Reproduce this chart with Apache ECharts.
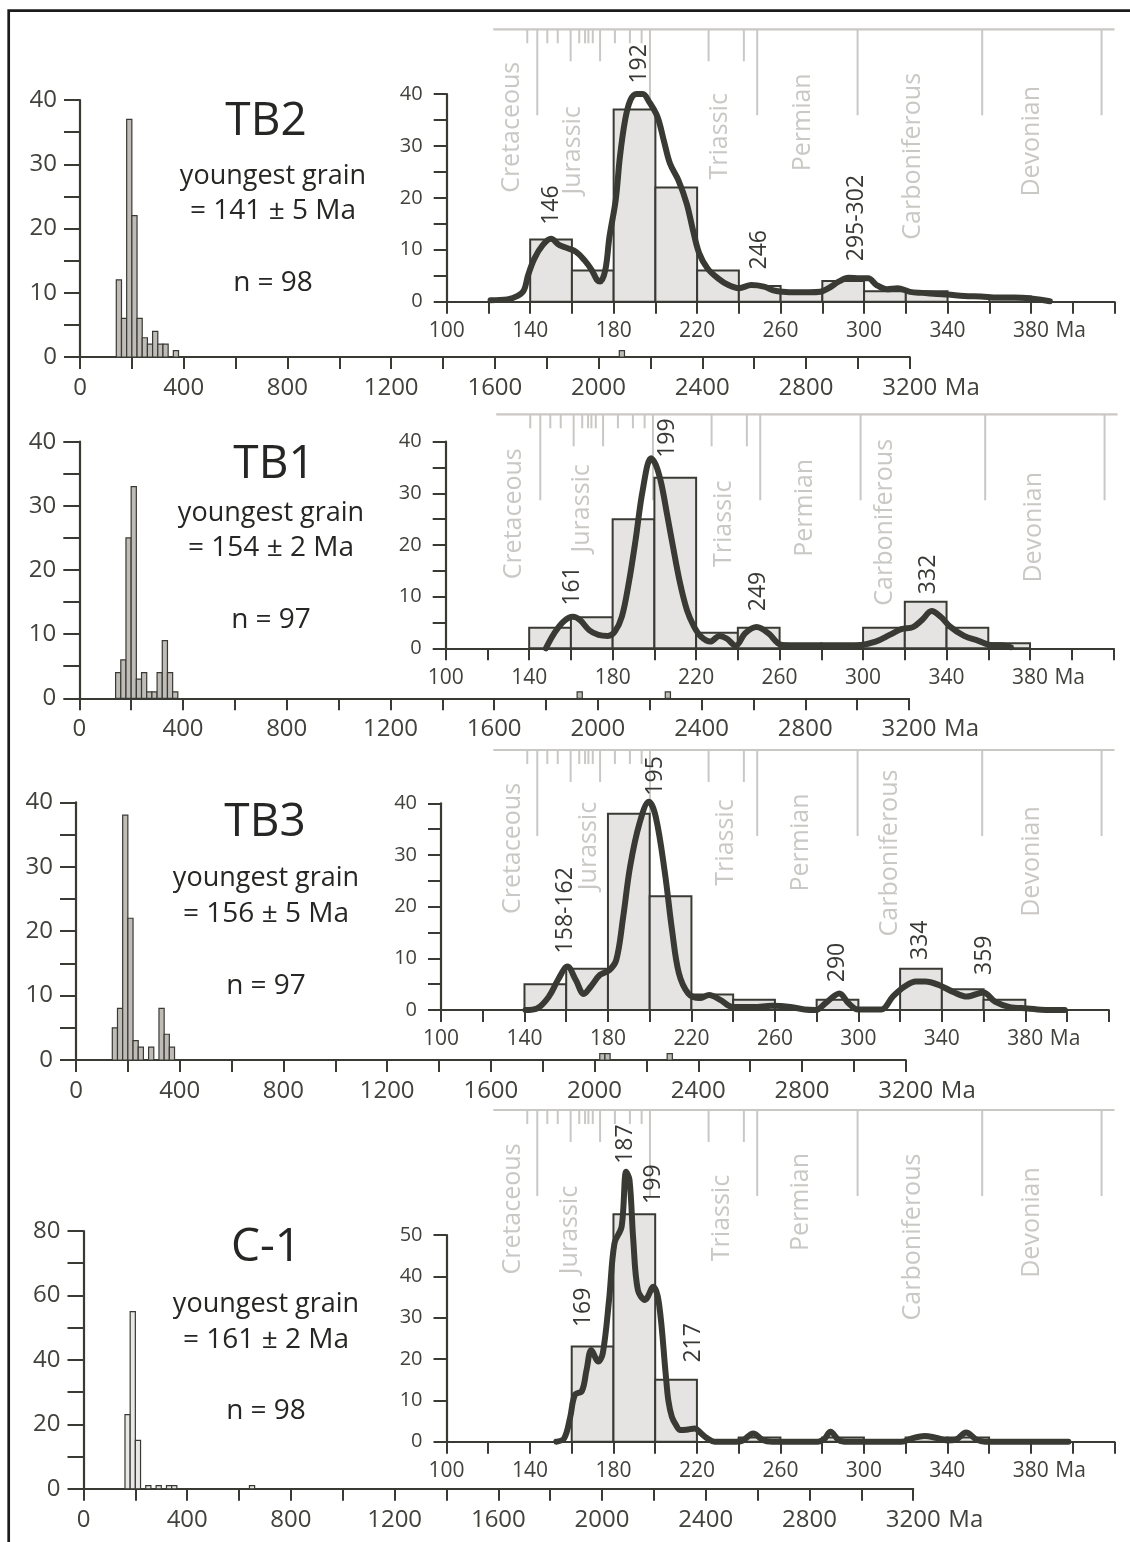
<!DOCTYPE html>
<html><head><meta charset="utf-8">
<script src="https://cdn.jsdelivr.net/npm/echarts@6/dist/echarts.min.js"></script>
<style>html,body{margin:0;padding:0;background:#fff}#c{width:1130px;height:1542px}</style>
</head><body><div id="c"></div>
<script>
// ---------------- DATA ----------------
const BIN = 20; // Ma, histogram bin width

// TB2
const tb2BinStart = [140,160,180,200,220,240,260,280,300,320,360,2080];
const tb2BinCount = [12,6,37,22,6,3,2,4,2,2,1,1];
const tb2KdeAge = [121,129,134,137,139,142,146,150,154,158,162,166,169.5,172,173.5,176,178,181,183,185.5,188,191,194,197,201,204,207,211,215,218,221,225,230,235,240,246,252,256.5,261,268,274,279,283,288,292.5,298,302,306,311,316,322,328,335,340,348,356,364,372,380,389];
const tb2KdeVal = [0.3,0.45,1.1,2.2,5.1,8.3,10.9,12.1,10.9,10.3,9.6,8,6.1,4.2,3.9,6.1,12.5,19.6,27.9,35,38.8,40,40,38.5,35.6,31.1,26.6,23.4,18.9,13.8,9.3,6.4,4.5,3.2,2.6,3.2,2.9,2.2,1.9,1.8,1.8,1.9,2.6,3.9,4.6,4.5,4.5,3.2,2.4,2.6,1.9,1.7,1.5,1.4,1.1,1,0.8,0.8,0.6,0.1];
const tb2PeakText = ['146','192','246','295-302'];

// TB1
const tb1BinStart = [140,160,180,200,220,240,260,280,300,320,340,360,1920,2260];
const tb1BinCount = [4,6,25,33,3,4,1,1,4,9,4,1,1,1];
const tb1KdeAge = [148,152,156.5,161,164.3,168.8,173.2,177.7,181,184.4,187.7,191,194.4,198.4,200.7,203.3,206,208.9,212.3,215.6,219,222.3,226.8,231.2,234.6,239,243.5,249,254.7,259.2,263.6,272.5,283.7,297,306,312.7,318.3,323.9,328.3,332.8,337.2,341.7,348.4,355,361.8,366.3,370.8];
const tb1KdeVal = [0,2.9,5.2,6.1,5.5,3.5,2.6,2.4,3.2,6.1,12.6,21,30.6,36.8,35.5,31.9,26.1,19.7,12.6,7.4,4.2,2.3,1.3,2.4,1.9,0.5,2.9,4.1,2.9,1,0.5,0.3,0.3,0.5,1.3,2.6,3.7,4.1,5.5,7.2,6.1,4.2,2.4,1.5,0.6,0.6,0.2];
const tb1PeakText = ['161','199','249','332'];

// TB3
const tb3BinStart = [140,160,180,200,220,240,280,320,340,360,2020,2040,2280];
const tb3BinCount = [5,8,38,22,3,2,2,8,4,2,1,1,1];
const tb3KdeAge = [140.5,146,151.7,156,160.6,164.6,168.4,171.7,176.2,180.6,184,187.3,190.6,195.1,199.6,202.9,207.3,210.7,214,218.5,224,228.5,234,239.6,249.7,258.6,267.5,274.2,279.7,284.2,290.9,295.3,299.8,310.9,316.5,322,327.6,332,338.8,345.4,352,359.9,365.5,372.2,381,390,398.9];
const tb3KdeVal = [0,0.3,2.6,5.8,8.4,5.8,3.1,4.5,6.8,7.7,9.7,18,27.7,36.1,40.3,37.4,26.5,15.5,7.1,3.2,2.3,2.9,1.9,0.6,0.6,0.8,0.6,0.1,0,1.3,3.2,1.3,0.1,0.1,2.6,4.5,5.5,5.5,4.8,3.5,2.6,3.4,1.6,0.6,0.3,0,0];
const tb3PeakText = ['158-162','195','290','334','359'];

// C-1
const c1BinStart = [160,180,200,240,280,320,340,640];
const c1BinCount = [23,55,15,1,1,1,1,1];
const c1KdeAge = [152.6,156.4,159.3,161.5,164.9,167.1,169.4,172.7,174.9,177.9,180.5,183.9,186.1,187.7,189.5,191.7,195.1,199.1,201.8,205.1,206.3,208,210,212,215,219,222,225,228.5,238.7,242,247,251.5,256,278,281,284,288,292,318,323,329,335,340,344,349,354,358,398];
const c1KdeVal = [0,0.8,6,11.3,12.3,17.3,22.2,19.4,21.4,34.3,48,52,65.3,63.3,48.8,36.7,34.3,37.5,33.5,16,10,6,4,2.8,2.9,3.2,2,0.8,0,0,0.3,2,0.4,0,0,0.6,2.4,0.4,0,0,0.8,1.4,0.9,0.3,0.5,2.2,0.5,0,0];
const c1PeakText = ['187','199','169','217'];

// Geologic time scale (Ma)
const periodNames = ['Cretaceous','Jurassic','Triassic','Permian','Carboniferous','Devonian'];
const boundaryAge  = [138.6,143.4,148.2,153.2,159.4,163.5,166.3,167.9,170,173.5,180.6,187.8,193.4,197.4,225.5,242.4,248.8,296.9,356.6,413.8];
const boundaryRank = ['s','l','s','s','m','s','s','s','s','m','s','s','s','l','m','m','l','l','l','l'];
const scaleSpan = [122.3, 420];

// ---------------- STYLE / LAYOUT ----------------
const FONT = '"Open Sans", "Noto Sans", sans-serif';
const DARK = '#3a3a35';
const LABEL = '#42423d';
const GEO = '#cac8c5';
const INSET_FILL = '#e5e4e2';
const MAIN_W = 829.7, INSET_W = 667.8, SCALE_H = 86;
const RANK_LEN = {s: 14, m: 32, l: 86};

const panels = [
  {title:'TB2', info:['youngest grain','= 141 ± 5 Ma','n = 98'], binStart:tb2BinStart, binCount:tb2BinCount, kdeAge:tb2KdeAge, kdeVal:tb2KdeVal, peakText:tb2PeakText, mainMax:40, mainTick:5, mainLab:10, insetMax:40, insetTick:5, mainFill:'#bfbcb7'},
  {title:'TB1', info:['youngest grain','= 154 ± 2 Ma','n = 97'], binStart:tb1BinStart, binCount:tb1BinCount, kdeAge:tb1KdeAge, kdeVal:tb1KdeVal, peakText:tb1PeakText, mainMax:40, mainTick:5, mainLab:10, insetMax:40, insetTick:5, mainFill:'#bfbcb7'},
  {title:'TB3', info:['youngest grain','= 156 ± 5 Ma','n = 97'], binStart:tb3BinStart, binCount:tb3BinCount, kdeAge:tb3KdeAge, kdeVal:tb3KdeVal, peakText:tb3PeakText, mainMax:40, mainTick:5, mainLab:10, insetMax:40, insetTick:5, mainFill:'#bfbcb7'},
  {title:'C-1', info:['youngest grain','= 161 ± 2 Ma','n = 98'], binStart:c1BinStart, binCount:c1BinCount, kdeAge:c1KdeAge, kdeVal:c1KdeVal, peakText:c1PeakText, mainMax:80, mainTick:10, mainLab:20, insetMax:50, insetTick:10, mainFill:'#e8e8e6'}
];

const layouts = [
  {main:{left:80, top:100, height:257}, inset:{left:446.7, top:94, height:207.7}, scale:{left:446.7, top:29.3},
   titleX:266, textX:273, ys:[122,176,211,283],
   peaks:[[150.3,18.6],[192.6,45.8],[250.1,10],[296.5,16.1]],
   periods:[[131.1,98],[160.7,121],[231,107],[270.6,93],[323.6,127],[380.3,112]]},
  {main:{left:79.3, top:441.7, height:256.6}, inset:{left:445.7, top:441.7, height:206.6}, scale:{left:449.7, top:414.3},
   titleX:274, textX:271, ys:[465,513,548,620],
   peaks:[[160.7,12.1],[206.4,40.7],[249.9,11],[331.3,14.3]],
   periods:[[130.9,99.5],[163.2,94],[231.3,109.5],[270.3,93.5],[308.6,108],[380,113]]},
  {main:{left:76, top:802.3, height:257.7}, inset:{left:441, top:803.3, height:206.7}, scale:{left:446.7, top:750},
   titleX:265, textX:266, ys:[823,878,914,986],
   peaks:[[159.6,19.3],[203,45.3],[290,9.2],[329.8,13.5],[360.3,10.6]],
   periods:[[131.6,98.5],[168,96],[233.8,92.5],[269.9,92.5],[312.3,103],[380.3,111.5]]},
  {main:{left:83.5, top:1231, height:257.8}, inset:{left:446.5, top:1235, height:206.7}, scale:{left:446.7, top:1110},
   titleX:266, textX:266, ys:[1248,1304,1340,1411],
   peaks:[[185.9,72],[199.3,62.3],[165.8,32.5],[218.3,23.9]],
   periods:[[131.6,99],[159.1,120],[231.8,108],[269.9,92],[323.4,127],[380.3,112.5]]}
];

// ---------------- BUILD ----------------
const chart = echarts.init(document.getElementById('c'), null, {renderer:'canvas'});
const option = {animation:false, backgroundColor:'#fff', grid:[], xAxis:[], yAxis:[], series:[], graphic:[]};

function axisCommon(){
  return {
    axisLine:{show:true, onZero:false, lineStyle:{color:DARK, width:2.2}},
    axisTick:{show:true, inside:false, lineStyle:{color:DARK, width:2}},
    splitLine:{show:false}
  };
}
function richLabels(fs, w){
  return {
    n:{fontSize:fs, fontFamily:FONT, color:LABEL},
    p:{fontSize:fs, fontFamily:FONT, color:LABEL, width:w},
    m:{fontSize:fs, fontFamily:FONT, color:LABEL, width:w, align:'left'}
  };
}
function barsRender(fill, lw){
  return function(params, api){
    const x0 = api.value(0), c = api.value(1);
    const a = api.coord([x0, 0]);
    const b = api.coord([x0 + BIN, c]);
    return {type:'rect', shape:{x:a[0], y:b[1], width:b[0]-a[0], height:a[1]-b[1]},
            style:{fill:fill, stroke:DARK, lineWidth:lw}};
  };
}

panels.forEach((p, i) => {
  const L = layouts[i];
  const gMain = option.grid.length, gIn = gMain + 1, gSc = gMain + 2;
  option.grid.push({left:L.main.left, top:L.main.top, width:MAIN_W, height:L.main.height, containLabel:false, outerBoundsMode:'none'});
  option.grid.push({left:L.inset.left, top:L.inset.top, width:INSET_W, height:L.inset.height, containLabel:false, outerBoundsMode:'none'});
  option.grid.push({left:L.scale.left, top:L.scale.top, width:INSET_W, height:SCALE_H, containLabel:false, outerBoundsMode:'none'});

  // main axes
  option.xAxis.push(Object.assign(axisCommon(), {
    gridIndex:gMain, type:'value', min:0, max:3200, interval:200,
    axisTick:{show:true, length:12, lineStyle:{color:DARK, width:2}},
    axisLabel:{margin:19, fontSize:24, fontFamily:FONT, color:LABEL, rich:richLabels(24, 44),
      formatter: v => v % 400 !== 0 ? '' : (v === 3200 ? '{p|\u00a0}{n|3200}{m|\u00a0Ma}' : '{n|' + v + '}')}
  }));
  option.yAxis.push(Object.assign(axisCommon(), {
    gridIndex:gMain, type:'value', min:0, max:p.mainMax, interval:p.mainTick,
    axisTick:{show:true, length:16, lineStyle:{color:DARK, width:2}},
    axisLabel:{margin:23, fontSize:24, fontFamily:FONT, color:LABEL,
      formatter: v => v % p.mainLab === 0 ? String(v) : ''}
  }));
  // inset axes
  option.xAxis.push(Object.assign(axisCommon(), {
    gridIndex:gIn, type:'value', min:100, max:420, interval:20,
    axisTick:{show:true, length:12, lineStyle:{color:DARK, width:2}},
    axisLabel:{margin:19, fontSize:21, fontFamily:FONT, color:LABEL, rich:richLabels(21, 38),
      formatter: v => ((v - 100) % 40 !== 0 || v > 380) ? '' : (v === 380 ? '{p|\u00a0}{n|380}{m|\u00a0Ma}' : '{n|' + v + '}')}
  }));
  option.yAxis.push(Object.assign(axisCommon(), {
    gridIndex:gIn, type:'value', min:0, max:p.insetMax, interval:p.insetTick,
    axisTick:{show:true, length:13, lineStyle:{color:DARK, width:2}},
    axisLabel:{margin:24, fontSize:20, fontFamily:FONT, color:LABEL,
      formatter: v => v % 10 === 0 ? String(v) : ''}
  }));
  // scale axes (hidden)
  option.xAxis.push({gridIndex:gSc, type:'value', min:100, max:420, show:false});
  option.yAxis.push({gridIndex:gSc, type:'value', min:0, max:SCALE_H, inverse:true, show:false});

  // main histogram
  option.series.push({type:'custom', xAxisIndex:gMain, yAxisIndex:gMain, clip:false, z:2,
    encode:{x:0, y:1},
    data:p.binStart.map((s, k) => [s, p.binCount[k]]),
    renderItem: barsRender(p.mainFill, 1.2)});
  // inset histogram
  option.series.push({type:'custom', xAxisIndex:gIn, yAxisIndex:gIn, clip:false, z:2,
    encode:{x:0, y:1},
    data:p.binStart.filter(s => s < 420).map(s => [s, p.binCount[p.binStart.indexOf(s)]]),
    renderItem: barsRender(INSET_FILL, 2)});
  // KDE curve
  option.series.push({type:'line', xAxisIndex:gIn, yAxisIndex:gIn, clip:false, z:3,
    data:p.kdeAge.map((a, k) => [a, p.kdeVal[k]]),
    smooth:0.35, symbol:'none',
    lineStyle:{color:'#3a3a34', width:6, cap:'round', join:'round'}});
  // peak labels
  option.series.push({type:'custom', xAxisIndex:gIn, yAxisIndex:gIn, clip:false, z:5,
    encode:{x:0, y:1},
    data:L.peaks,
    renderItem:(params, api) => {
      const c = api.coord([api.value(0), api.value(1)]);
      return {type:'text', x:c[0], y:c[1], rotation:Math.PI/2,
        style:{text:p.peakText[params.dataIndex], fill:'#383834', font:'23px ' + FONT,
               align:'center', verticalAlign:'middle', textAlign:'center', textVerticalAlign:'middle'}};
    }});
  // geologic scale: top line
  option.series.push({type:'custom', xAxisIndex:gSc, yAxisIndex:gSc, clip:false, z:1,
    data:[scaleSpan],
    renderItem:(params, api) => {
      const a = api.coord([api.value(0), 0]), b = api.coord([api.value(1), 0]);
      return {type:'line', shape:{x1:a[0], y1:a[1], x2:b[0], y2:b[1]}, style:{stroke:GEO, lineWidth:2.2}};
    }});
  // geologic scale: boundaries
  option.series.push({type:'custom', xAxisIndex:gSc, yAxisIndex:gSc, clip:false, z:1,
    data:boundaryAge.map((a, k) => [a, 0]),
    renderItem:(params, api) => {
      const a = api.coord([api.value(0), 0]);
      const len = RANK_LEN[boundaryRank[params.dataIndex]];
      return {type:'line', shape:{x1:a[0], y1:a[1], x2:a[0], y2:a[1] + len}, style:{stroke:GEO, lineWidth:2}};
    }});
  // period names
  option.series.push({type:'custom', xAxisIndex:gSc, yAxisIndex:gSc, clip:false, z:1,
    data:L.periods,
    renderItem:(params, api) => {
      const c = api.coord([api.value(0), api.value(1)]);
      return {type:'text', x:c[0], y:c[1], rotation:Math.PI/2,
        style:{text:periodNames[params.dataIndex], fill:GEO, font:'25px ' + FONT,
               align:'center', verticalAlign:'middle', textAlign:'center', textVerticalAlign:'middle'}};
    }});

  // titles / info texts
  const txt = (s, x, y, size) => ({type:'text', x:x, y:y, silent:true,
    style:{text:s, font:size + 'px ' + FONT, fill:'#262624', align:'center', verticalAlign:'middle', textAlign:'center', textVerticalAlign:'middle'}});
  option.graphic.push(txt(p.title, L.titleX, L.ys[0], 46));
  option.graphic.push(txt(p.info[0], L.textX, L.ys[1], 27));
  option.graphic.push(txt(p.info[1], L.textX, L.ys[2], 28));
  option.graphic.push(txt(p.info[2], L.textX, L.ys[3], 28));
});

// outer frame
option.graphic.push({type:'rect', silent:true, shape:{x:8.7, y:10.7, width:1200, height:1600},
  style:{fill:'none', stroke:'#1c1c1c', lineWidth:2.7}});

chart.setOption(option);
</script></body></html>
